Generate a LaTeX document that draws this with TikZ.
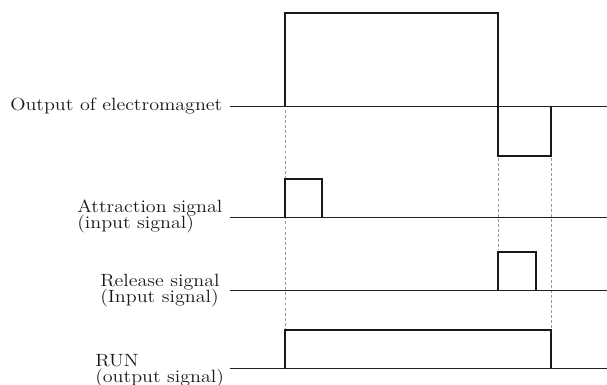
\documentclass[tikz,border=0pt]{standalone}
\newcommand{\widetxt}[1]{\scalebox{1.13}[1]{#1}}
\tikzset{
  base/.style={line width=0.65pt, black!88},
  pulse/.style={line width=1.15pt, black!90},
  guide/.style={line width=0.6pt, gray!80, dash pattern=on 2.2pt off 1.6pt},
  lbl/.style={inner sep=0pt, anchor=base west, font=\fontsize{13.3}{14}\selectfont, text=black!90},
}
\begin{document}
\begin{tikzpicture}[x=0.75pt,y=-0.75pt]
\useasboundingbox[clip] (0,0) rectangle (607,385);
% coordinates
\coordinate (oL) at (230,106); \coordinate (oR) at (607,106);
\coordinate (aL) at (230,217); \coordinate (aR) at (607,217);
\coordinate (rL) at (230,290); \coordinate (rR) at (607,290);
\coordinate (uL) at (230,368); \coordinate (uR) at (607,368);
% guides
\coordinate (g1a) at (285,110); \coordinate (g1b) at (285,328);
\coordinate (g2a) at (498,158); \coordinate (g2b) at (498,250);
\coordinate (g3a) at (551,158); \coordinate (g3b) at (551,328);
\draw[guide] (g1a) -- (g1b);
\draw[guide] (g2a) -- (g2b);
\draw[guide] (g3a) -- (g3b);
% baselines
\draw[base] (oL) -- (oR);
\draw[base] (aL) -- (aR);
\draw[base] (rL) -- (rR);
\draw[base] (uL) -- (uR);
% pulses
\draw[pulse] (285,106) -- (285,13) -- (498,13) -- (498,156) -- (551,156) -- (551,106);
\draw[pulse] (285,217) -- (285,179) -- (322,179) -- (322,217);
\draw[pulse] (498,290) -- (498,252) -- (536,252) -- (536,290);
\draw[pulse] (285,368) -- (285,330) -- (551,330) -- (551,368);
% labels
\node[lbl] (t1) at (10,110.5) {\widetxt{Output of electromagnet}};
\node[lbl] (t2) at (77,212) {\widetxt{Attraction signal}};
\node[lbl] (t3) at (77,228) {\widetxt{(input signal)}};
\node[lbl] (t4) at (100,286) {\widetxt{Release signal}};
\node[lbl] (t5) at (100,302) {\widetxt{(Input signal)}};
\node[lbl] (t6) at (95,366) {\widetxt{RUN}};
\node[lbl] (t7) at (95,382) {\widetxt{(output signal)}};
\end{tikzpicture}
\end{document}
